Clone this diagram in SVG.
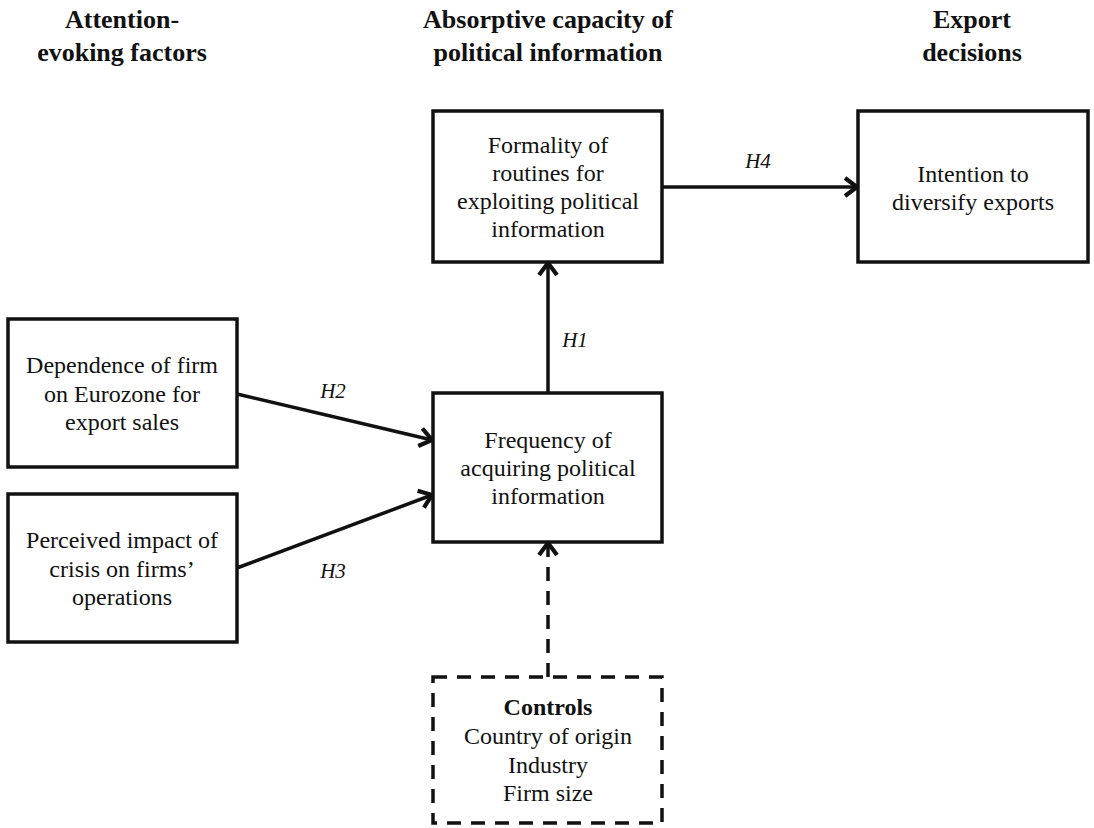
<svg xmlns="http://www.w3.org/2000/svg" width="1094" height="828" viewBox="0 0 1094 828">
  <defs>
    <style>
      .box { fill: #ffffff; stroke: #111111; stroke-width: 3.5; }
      .dash { stroke-dasharray: 14 10; }
      .head { font-family: "Liberation Serif", "Times New Roman", serif; font-weight: bold; font-size: 26px; fill: #111111; text-anchor: middle; }
      .lbl { font-family: "Liberation Serif", "Times New Roman", serif; font-size: 24px; fill: #111111; text-anchor: middle; }
      .hyp { font-family: "Liberation Serif", "Times New Roman", serif; font-style: italic; font-size: 21px; fill: #111111; text-anchor: middle; }
      .edge { fill: none; stroke: #111111; stroke-width: 3.5; }
    </style>
    <marker id="arrow" markerUnits="userSpaceOnUse" markerWidth="24" markerHeight="24" viewBox="-14 -10 16 20" refX="0" refY="0" orient="auto">
      <path d="M -10 -7.5 L 0 0 L -10 7.5" fill="none" stroke="#111111" stroke-width="3.5" stroke-linejoin="miter"/>
    </marker>
  </defs>
  <rect width="1094" height="828" fill="#ffffff"/>

  <!-- column headings -->
  <g id="headings">
    <text class="head" x="122" y="28">Attention-</text>
    <text class="head" x="122" y="61">evoking factors</text>
    <text class="head" x="548" y="28">Absorptive capacity of</text>
    <text class="head" x="548" y="61">political information</text>
    <text class="head" x="972" y="28">Export</text>
    <text class="head" x="972" y="61">decisions</text>
  </g>

  <!-- connectors -->
  <g id="connectors">
    <line class="edge" x1="237" y1="394" x2="432" y2="440" marker-end="url(#arrow)"/>
    <line class="edge" x1="237" y1="568" x2="432" y2="495" marker-end="url(#arrow)"/>
    <line class="edge" x1="548" y1="393" x2="548" y2="263" marker-end="url(#arrow)"/>
    <line class="edge" x1="662" y1="187" x2="857" y2="187" marker-end="url(#arrow)"/>
    <line class="edge dash" x1="548" y1="677" x2="548" y2="543" marker-end="url(#arrow)"/>
    <text class="hyp" x="333" y="398">H2</text>
    <text class="hyp" x="333" y="578">H3</text>
    <text class="hyp" x="575" y="347">H1</text>
    <text class="hyp" x="758" y="168">H4</text>
  </g>

  <g id="node-dependence">
    <rect class="box" x="8" y="319" width="229" height="148"/>
    <text class="lbl" x="122" y="373">Dependence of firm</text>
    <text class="lbl" x="122" y="402">on Eurozone for</text>
    <text class="lbl" x="122" y="430">export sales</text>
  </g>

  <g id="node-impact">
    <rect class="box" x="8" y="494" width="229" height="148"/>
    <text class="lbl" x="122" y="548">Perceived impact of</text>
    <text class="lbl" x="122" y="577">crisis on firms’</text>
    <text class="lbl" x="122" y="605">operations</text>
  </g>

  <g id="node-formality">
    <rect class="box" x="433" y="111" width="229" height="151"/>
    <text class="lbl" x="548" y="153">Formality of</text>
    <text class="lbl" x="548" y="181">routines for</text>
    <text class="lbl" x="548" y="209">exploiting political</text>
    <text class="lbl" x="548" y="237">information</text>
  </g>

  <g id="node-intention">
    <rect class="box" x="858" y="111" width="230" height="151"/>
    <text class="lbl" x="973" y="182">Intention to</text>
    <text class="lbl" x="973" y="210">diversify exports</text>
  </g>

  <g id="node-frequency">
    <rect class="box" x="433" y="393" width="229" height="149"/>
    <text class="lbl" x="548" y="448">Frequency of</text>
    <text class="lbl" x="548" y="476">acquiring political</text>
    <text class="lbl" x="548" y="504">information</text>
  </g>

  <g id="node-controls">
    <rect class="box dash" x="433" y="677" width="229" height="146"/>
    <text class="lbl" x="548" y="715" font-weight="bold">Controls</text>
    <text class="lbl" x="548" y="744">Country of origin</text>
    <text class="lbl" x="548" y="773">Industry</text>
    <text class="lbl" x="548" y="801">Firm size</text>
  </g>
</svg>
